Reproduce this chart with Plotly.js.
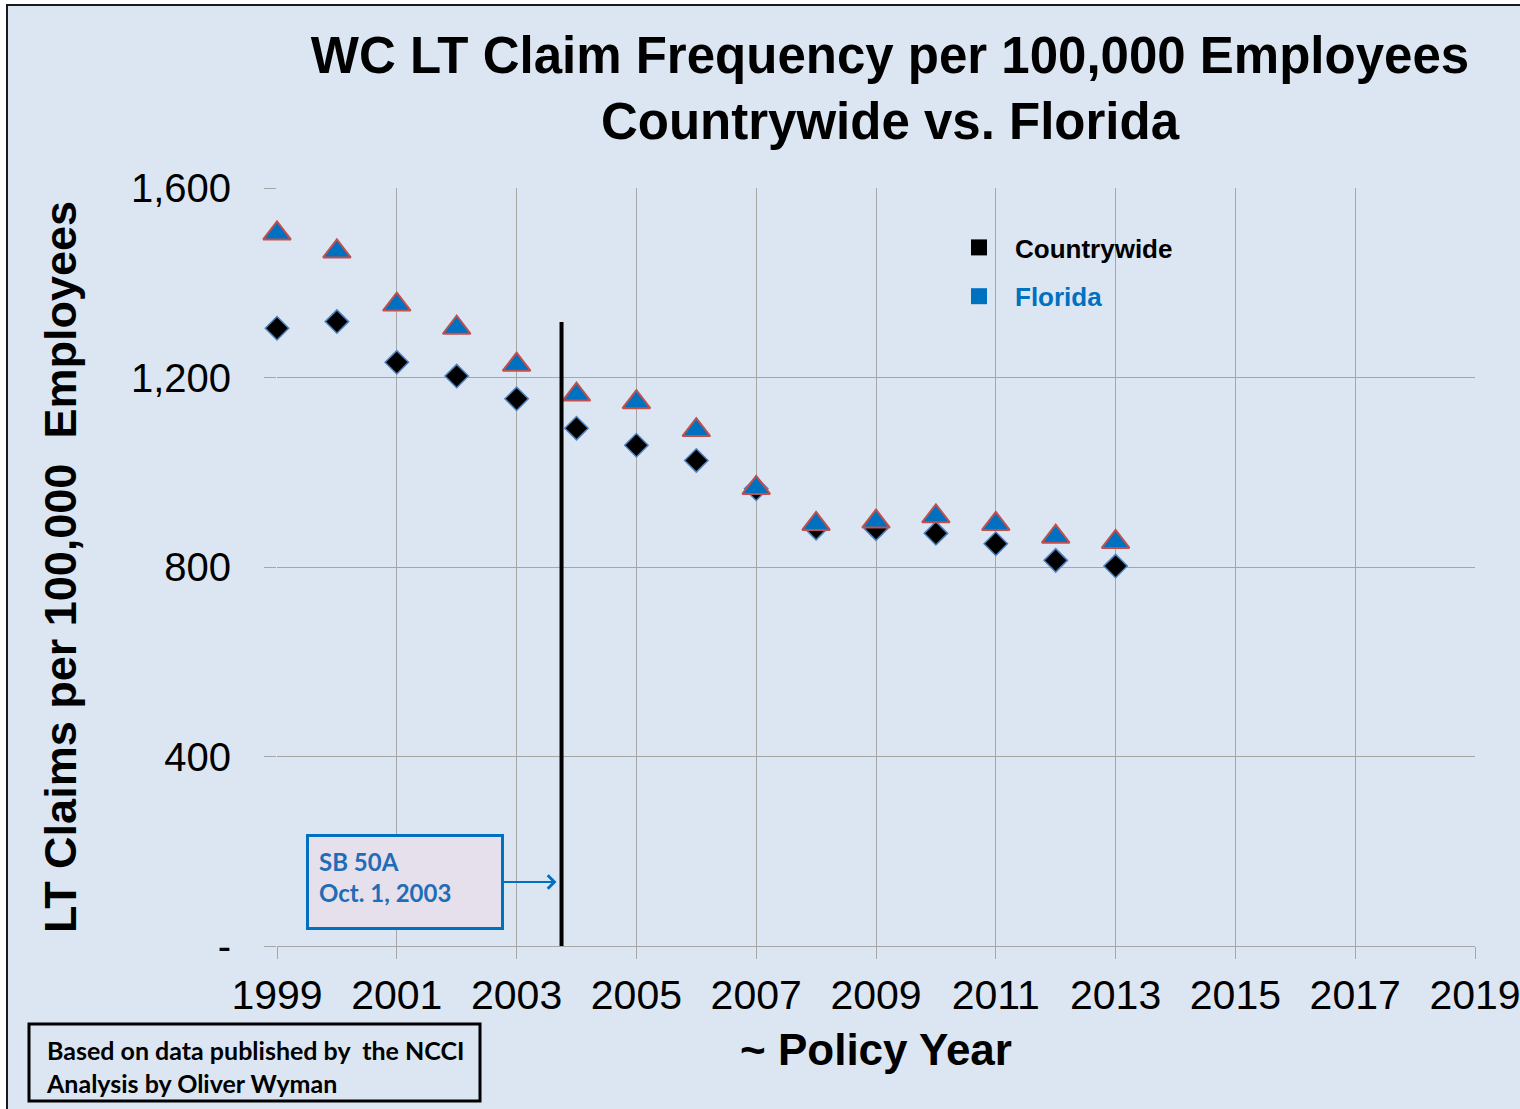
<!DOCTYPE html>
<html>
<head>
<meta charset="utf-8">
<script src="https://cdn.plot.ly/plotly-3.0.1.min.js"></script>
<style>html,body{margin:0;padding:0;background:#ffffff;}#chart{width:1520px;height:1109px;}</style>
</head>
<body>
<div id="chart"></div>
<script>
// ---- data ----
const years = [1999, 2000, 2001, 2002, 2003, 2004, 2005, 2006, 2007, 2008, 2009, 2010, 2011, 2012, 2013];
const countrywide = [1304, 1318, 1232, 1203, 1155, 1093, 1057, 1025, 965, 882, 881, 871, 849, 814, 802];
const florida = [1504, 1466, 1354, 1305, 1227, 1164, 1148, 1089, 967, 891, 896, 907, 891, 864, 853];
const xTickVals = [1999, 2001, 2003, 2005, 2007, 2009, 2011, 2013, 2015, 2017, 2019];
const xTickText = ['1999', '2001', '2003', '2005', '2007', '2009', '2011', '2013', '2015', '2017', '2019'];
const yTickVals = [0, 400, 800, 1200, 1600];
const yTickText = ['-', '400', '800', '1,200', '1,600'];
const eventDate = [2003.75];        // SB 50A, Oct. 1, 2003
const eventLineTop = [1317];
const eventArrowY = [135];
const seriesNames = ['Countrywide', 'Florida'];

const BG = '#dce6f2';
const GRID = '#a6a6a6';

const traces = [
  {
    x: years, y: countrywide, type: 'scatter', mode: 'markers', showlegend: false, cliponaxis: false,
    marker: {symbol: 'diamond', size: 18, color: '#000000', line: {color: '#4f81bd', width: 1.5}},
    name: seriesNames[0]
  },
  {
    x: years, y: florida, type: 'scatter', mode: 'markers', showlegend: false, cliponaxis: false,
    marker: {symbol: 'triangle-up', size: 24, color: '#0070c0', line: {color: '#c0504d', width: 2}},
    name: seriesNames[1]
  },
  {
    x: [null], y: [null], type: 'scatter', mode: 'markers', showlegend: true, legendgroup: 'cw',
    marker: {symbol: 'square', size: 16, color: '#000000'},
    name: '<b>' + seriesNames[0] + '</b>'
  },
  {
    x: [null], y: [null], type: 'scatter', mode: 'markers', showlegend: true, legendgroup: 'fl',
    marker: {symbol: 'square', size: 16, color: '#0070c0'},
    name: '<b><span style="color:#0070c0">' + seriesNames[1] + '</span></b>'
  }
];

const L = 277, R = 45, T = 188, B = 163;
const W = 1520, H = 1109;
const pw = W - L - R, ph = H - T - B;
function px2x(p) { return (p - L) / pw; }
function px2y(p) { return (H - B - p) / ph; }

const layout = {
  width: W, height: H,
  margin: {l: L, r: R, t: T, b: B, pad: 0},
  paper_bgcolor: '#ffffff',
  plot_bgcolor: BG,
  font: {family: '"Liberation Sans", Arial, sans-serif', color: '#000000'},
  title: {
    text: '<b>WC LT Claim Frequency per 100,000 Employees<br>Countrywide vs. Florida</b>',
    font: {size: 51, color: '#000000', family: '"Liberation Sans", Arial, sans-serif'},
    x: 890 / W, xref: 'container', xanchor: 'center',
    y: 1 - 73 / H, yref: 'container', yanchor: 'middle'
  },
  xaxis: {
    range: [1999, 2019],
    tickvals: xTickVals, ticktext: xTickText,
    showgrid: true, gridcolor: GRID, gridwidth: 1,
    zeroline: false, showline: true, linecolor: GRID, linewidth: 1,
    ticks: 'outside', ticklen: 12, tickcolor: GRID, tickwidth: 1,
    ticklabelstandoff: 1, ticklabeloverflow: 'allow',
    tickfont: {size: 41, color: '#000000'},
    title: {text: '<b>~ Policy Year</b>', font: {size: 44, color: '#000000'}, standoff: 16}
  },
  yaxis: {
    range: [0, 1600],
    tickvals: yTickVals, ticktext: yTickText,
    showgrid: true, gridcolor: GRID, gridwidth: 1,
    zeroline: false, showline: false,
    ticks: 'outside', ticklen: 12, tickcolor: GRID, tickwidth: 1,
    ticklabelstandoff: 25,
    tickfont: {size: 40, color: '#000000'},
    title: {text: '<b>LT Claims per 100,000  Employees</b>', font: {size: 45, color: '#000000'}, standoff: 40}
  },
  legend: {
    x: px2x(943), y: px2y(224), xanchor: 'left', yanchor: 'top',
    bgcolor: 'rgba(0,0,0,0)', borderwidth: 0,
    font: {size: 26, color: '#000000', family: '"Liberation Sans", Arial, sans-serif'},
    itemsizing: 'trace', tracegroupgap: 12, traceorder: 'grouped', itemwidth: 62
  },
  shapes: [
    {
      type: 'rect', xref: 'paper', yref: 'paper', layer: 'below',
      x0: px2x(7), x1: px2x(1530), y0: px2y(1120), y1: px2y(5),
      fillcolor: BG, line: {color: '#1a1a1a', width: 2}
    },
    {
      type: 'line', xref: 'x', yref: 'y',
      x0: eventDate[0], x1: eventDate[0], y0: 0, y1: eventLineTop[0],
      line: {color: '#000000', width: 4}
    },
    {
      type: 'rect', xref: 'paper', yref: 'paper', layer: 'above',
      x0: px2x(29), x1: px2x(480), y0: px2y(1101), y1: px2y(1024),
      fillcolor: 'rgba(0,0,0,0)', line: {color: '#000000', width: 3}
    }
  ],
  annotations: [
    {
      xref: 'x', yref: 'y', x: eventDate[0], y: eventArrowY[0],
      axref: 'pixel', ayref: 'pixel', ax: -157, ay: 0,
      showarrow: true, arrowhead: 4, arrowsize: 1.3, arrowwidth: 2, arrowcolor: '#0070c0', standoff: 5,
      text: '<b>SB 50A<br>Oct. 1, 2003</b>', align: 'left', valign: 'top',
      font: {family: 'Lato, "Open Sans", sans-serif', size: 24, color: '#1f6db6'},
      bgcolor: '#e6e0ec', bordercolor: '#0070c0', borderwidth: 3, borderpad: 10,
      width: 172, height: 70
    },
    {
      xref: 'paper', yref: 'paper', x: px2x(45), y: px2y(1066), xanchor: 'left', yanchor: 'middle',
      showarrow: false,
      text: '<b>Based on data published by  the NCCI<br>Analysis by Oliver Wyman</b>', align: 'left',
      font: {family: 'Lato, "Open Sans", sans-serif', size: 25, color: '#000000'},
      borderpad: 0
    }
  ]
};

Plotly.newPlot('chart', traces, layout, {displayModeBar: false, staticPlot: true});
</script>
</body>
</html>
